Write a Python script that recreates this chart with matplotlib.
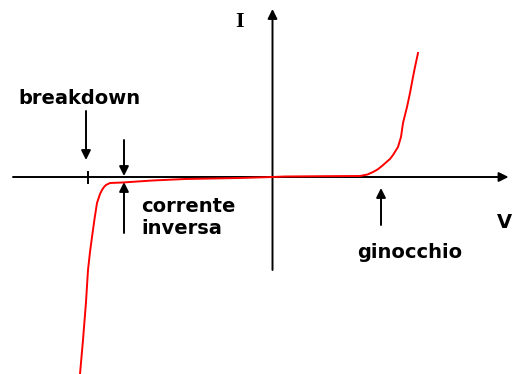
import matplotlib
matplotlib.use("Agg")
import matplotlib.pyplot as plt

# diode I-V characteristic, arbitrary units (origin at the axes crossing)
v_rev = [-192.5, -189.5, -186.5, -184.5, -182.5, -180.5, -178, -175.5, -172.5,
         -170.5, -168.5, -166.5, -162.5, -150, -142.5, -120, -87.5, -60, -32.5, 0]
i_rev = [-197, -163, -125, -93, -75, -60, -42, -26, -17,
         -13, -10, -8, -6, -5.5, -5, -3.5, -2, -1.5, -1, 0]

v_fwd = [0, 12.5, 50, 87.5, 95, 100.5, 105, 109.5, 114, 117.5, 120.5, 125.5,
         128.5, 130.5, 134.5, 137.5, 140.5, 142.5, 145.5]
i_fwd = [0, 0.5, 0.8, 1, 2.5, 5, 7.5, 11, 15, 18, 22, 30,
         40, 54, 70, 84, 100, 110, 124]

labels = {"breakdown": (-193, 79), "ginocchio": (137.5, -76)}
inv_lines = ["corrente", "inversa"]

fig = plt.figure(figsize=(5.13, 3.74), dpi=100)
ax = fig.add_axes([0, 0, 1, 1])
ax.set_xlim(-272.5, 240.5)
ax.set_ylim(-197, 177)
ax.axis("off")

def arrow(x0, y0, x1, y1, lw=1.4):
    ax.annotate("", xy=(x1, y1), xytext=(x0, y0),
                arrowprops=dict(arrowstyle="-|>", color="black", lw=lw,
                                mutation_scale=14, shrinkA=0, shrinkB=0))

# axes with arrow heads
arrow(-259.5, 0, 236, 0)
arrow(0, -93, 0, 168)
ax.plot([-184.5, -184.5], [-5.5, 5.5], color="black", lw=1.4)

# curve
ax.plot(v_rev, i_rev, color="red", lw=1.4, zorder=5)
ax.plot(v_fwd, i_fwd, color="red", lw=1.4, zorder=5)

# annotation arrows
arrow(-186.5, 66, -186.5, 17)
arrow(-148.5, 37, -148.5, 1)
arrow(-148.5, -56, -148.5, -5)
arrow(108.5, -48, 108.5, -11)

font = dict(fontsize=14, fontweight="bold", family="DejaVu Sans")
for txt, (x, y) in labels.items():
    ax.text(x, y, txt, ha="center", va="center", **font)
ax.text(-131.5, -29, inv_lines[0], ha="left", va="center", **font)
ax.text(-131.5, -52, inv_lines[1], ha="left", va="center", **font)

ax.text(-32.5, 155, "I", ha="center", va="center", fontsize=16,
        fontweight="bold", family="Liberation Serif")
ax.text(240, -45, "V", ha="right", va="center", fontsize=14,
        fontweight="bold", family="DejaVu Sans")

fig.savefig("out.png", dpi=100)
